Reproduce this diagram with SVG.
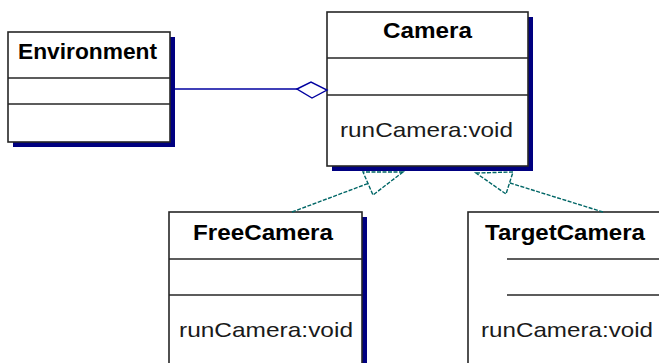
<svg xmlns="http://www.w3.org/2000/svg" width="659" height="363" viewBox="0 0 659 363">
<defs>
<style>
.shadow{fill:#000080;stroke:none}
.box{fill:#ffffff;stroke:#262626;stroke-width:1.6}
.sep{stroke:#262626;stroke-width:1.6;fill:none}
.title{font-family:"Liberation Sans",Arial,sans-serif;font-weight:bold;font-size:22px;fill:#000000}
.op{font-family:"Liberation Sans",Arial,sans-serif;font-size:21px;fill:#1a1a1a}
.agg{stroke:#0000a0;stroke-width:1.4;fill:none}
.gen{stroke:#006666;stroke-width:1.4;stroke-dasharray:4 1.5;fill:none}
.tri{stroke:#006666;stroke-width:1.4;stroke-dasharray:4 1.5;fill:#ffffff}
</style>
</defs>
<rect width="659" height="363" fill="#ffffff"/>
<g id="Environment">
<rect class="shadow" x="13" y="37" width="162" height="110"/>
<rect class="box" x="8" y="32" width="162" height="110"/>
<line class="sep" x1="8" y1="78" x2="170" y2="78"/>
<line class="sep" x1="8" y1="104" x2="170" y2="104"/>
<text class="title" x="18" y="59" textLength="139" lengthAdjust="spacingAndGlyphs">Environment</text>
</g>
<g id="Camera">
<rect class="shadow" x="332" y="17" width="201" height="154"/>
<rect class="box" x="327" y="12" width="201" height="154"/>
<line class="sep" x1="327" y1="58" x2="528" y2="58"/>
<line class="sep" x1="327" y1="95" x2="528" y2="95"/>
<text class="title" x="383" y="38" textLength="89" lengthAdjust="spacingAndGlyphs">Camera</text>
<text class="op" x="340" y="137" textLength="173" lengthAdjust="spacingAndGlyphs">runCamera:void</text>
</g>
<g id="FreeCamera">
<rect class="shadow" x="174" y="217" width="193" height="170"/>
<rect class="box" x="169" y="212" width="193" height="170"/>
<line class="sep" x1="169" y1="259" x2="362" y2="259"/>
<line class="sep" x1="169" y1="295" x2="362" y2="295"/>
<text class="title" x="193" y="240" textLength="140" lengthAdjust="spacingAndGlyphs">FreeCamera</text>
<text class="op" x="179" y="337" textLength="174" lengthAdjust="spacingAndGlyphs">runCamera:void</text>
</g>
<g id="TargetCamera">
<rect class="box" x="468" y="212" width="230" height="170"/>
<line class="sep" x1="507" y1="259" x2="659" y2="259"/>
<line class="sep" x1="507" y1="295" x2="659" y2="295"/>
<text class="title" x="485" y="240" textLength="160" lengthAdjust="spacingAndGlyphs">TargetCamera</text>
<text class="op" x="481" y="337" textLength="172" lengthAdjust="spacingAndGlyphs">runCamera:void</text>
</g>
<g id="connectors">
<line class="agg" x1="175" y1="89" x2="297" y2="89"/>
<polygon class="agg" fill="#ffffff" points="297,89 311,82 327,90 312,98"/>
<line class="gen" x1="292" y1="212" x2="368" y2="183.5"/>
<polygon class="tri" points="403,172 363,172 373,195"/>
<line class="gen" x1="603" y1="212" x2="510" y2="183"/>
<polygon class="tri" points="476,173 513,172 506,194"/>
</g>
</svg>
